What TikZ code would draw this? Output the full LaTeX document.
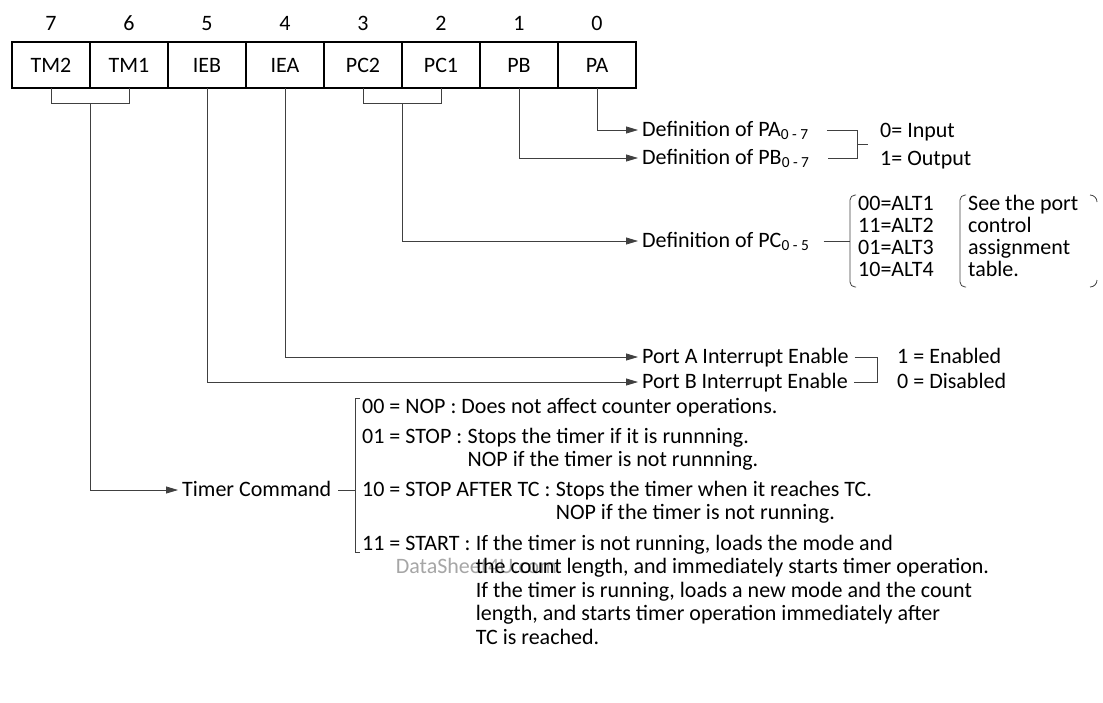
\documentclass[tikz,border=0pt]{standalone}
\usepackage{fontspec}
\setmainfont{Carlito}
\usepackage{tikz}
\usetikzlibrary{arrows.meta,positioning,calc}

\newcommand{\regfont}{\fontsize{22}{26}\selectfont}

\tikzset{
  bitcell/.style = {rectangle, draw, line width=1.1pt, outer sep=0pt, inner sep=0pt,
                    minimum width=78pt, minimum height=46pt, font=\regfont},
  bitnum/.style  = {inner sep=0pt, font=\regfont},
  lbl/.style     = {anchor=west, inner ysep=0pt, inner xsep=4pt, text height=14pt,
                    text depth=2pt, font=\regfont},
  txt/.style     = {anchor=base west, inner sep=0pt, font=\regfont},
  wire/.style    = {line width=0.8pt, draw=black!75},
  flow/.style    = {wire, -{Triangle[length=12pt,width=7pt]}},
}

\begin{document}
\begin{tikzpicture}[x=1pt, y=-1pt, node distance=0pt]
  \useasboundingbox (0,0) rectangle (1103,702);

  % register bits
  \node[bitcell] (ctm2) at (51,65) {TM2};
  \node[bitcell, right=of ctm2] (ctm1) {TM1};
  \node[bitcell, right=of ctm1] (cieb) {IEB};
  \node[bitcell, right=of cieb] (ciea) {IEA};
  \node[bitcell, right=of ciea] (cpc2) {PC2};
  \node[bitcell, right=of cpc2] (cpc1) {PC1};
  \node[bitcell, right=of cpc1] (cpb) {PB};
  \node[bitcell, right=of cpb] (cpa) {PA};

  \node[bitnum, above=11pt of ctm2] (n7) {7};
  \node[bitnum, above=11pt of ctm1] (n6) {6};
  \node[bitnum, above=11pt of cieb] (n5) {5};
  \node[bitnum, above=11pt of ciea] (n4) {4};
  \node[bitnum, above=11pt of cpc2] (n3) {3};
  \node[bitnum, above=11pt of cpc1] (n2) {2};
  \node[bitnum, above=11pt of cpb] (n1) {1};
  \node[bitnum, above=11pt of cpa] (n0) {0};

  % port definitions
  \node[lbl] (defpa) at (638,130) {Definition of PA\textsubscript{0 - 7}};
  \node[lbl] (defpb) at (638,158) {Definition of PB\textsubscript{0 - 7}};
  \node[lbl] (ioin) at (876,131) {0= Input};
  \node[lbl] (ioout) at (876,159) {1= Output};

  \node[lbl] (defpc) at (638,241) {Definition of PC\textsubscript{0 - 5}};
  \node[txt] (alt1) at (858,210) {00=ALT1};
  \node[txt] (alt2) at (858,232) {11=ALT2};
  \node[txt] (alt3) at (858,254) {01=ALT3};
  \node[txt] (alt4) at (858,276) {10=ALT4};
  \node[txt] (see1) at (968,210) {See the port};
  \node[txt] (see2) at (968,232) {control};
  \node[txt] (see3) at (968,254) {assignment};
  \node[txt] (see4) at (968,276) {table.};

  % interrupt enables
  \node[lbl] (inta) at (638,357) {Port A Interrupt Enable};
  \node[lbl] (intb) at (638,382) {Port B Interrupt Enable};
  \node[lbl] (en1) at (893,357) {1 = Enabled};
  \node[lbl] (en0) at (893,382) {0 = Disabled};

  % timer command
  \node[lbl] (tcmd) at (178,490) {Timer Command};
  \node[txt] (t00) at (362,413) {00 = NOP : Does not affect counter operations.};
  \node[txt] (t01) at (362,443) {01 = STOP :};
  \node[txt] (t01a) at ([xshift=5pt]t01.base east) {Stops the timer if it is runnning.};
  \node[txt] (t01b) at ($(t01a.base west)+(0,23.5)$) {NOP if the timer is not runnning.};
  \node[txt] (t10) at (362,496) {10 = STOP AFTER TC :};
  \node[txt] (t10a) at ([xshift=5pt]t10.base east) {Stops the timer when it reaches TC.};
  \node[txt] (t10b) at ($(t10a.base west)+(0,23.5)$) {NOP if the timer is not running.};
  \node[txt] (t11) at (362,550) {11 = START :};
  \node[txt] (t11a) at ([xshift=5pt]t11.base east) {If the timer is not running, loads the mode and};
  \node[txt, text=black!35] (wmark) at ($(t11a.base west)+(-80,23.5)$) {DataSheet4U.com};
  \node[txt] (t11b) at ($(t11a.base west)+(0,23.5)$) {the count length, and immediately starts timer operation.};
  \node[txt] (t11c) at ($(t11b.base west)+(0,23.5)$) {If the timer is running, loads a new mode and the count};
  \node[txt] (t11d) at ($(t11c.base west)+(0,23.5)$) {length, and starts timer operation immediately after};
  \node[txt] (t11e) at ($(t11d.base west)+(0,23.5)$) {TC is reached.};

  % connectors
  \draw[flow] (cpa.south) |- (defpa.west);
  \draw[flow] (cpb.south) |- (defpb.west);
  \draw[wire] (cpc2.south) -- ++(0,15) -| (cpc1.south);
  \coordinate (pcj) at ($(cpc2.south)!.5!(cpc1.south)+(0,15)$);
  \draw[flow] (pcj) |- (defpc.west);
  \draw[flow] (ciea.south) |- (inta.west);
  \draw[flow] (cieb.south) |- (intb.west);
  \draw[wire] (ctm2.south) -- ++(0,15) -| (ctm1.south);
  \coordinate (tmj) at ($(ctm2.south)!.5!(ctm1.south)+(0,15)$);
  \draw[flow] (tmj) |- (tcmd.west);

  % brackets
  \coordinate (iobar) at (857,0);
  \draw[wire] ([xshift=14pt]defpa.east) -- (defpa.east -| iobar) |- ([xshift=14pt]defpb.east);
  \draw[wire] ($(defpa.east -| iobar)!.5!(defpb.east -| iobar)$) -- ++(11,0);
  \draw[wire] ([xshift=10pt]defpc.east) -- (850,241);
  \draw[wire, rounded corners=5pt] (856,195) -- (850,195) -- (850,287) -- (856,287);
  \draw[wire, rounded corners=5pt] (966,195) -- (960,195) -- (960,287) -- (966,287);
  \draw[wire] (1090,195) to[out=0, in=90] (1097,202);
  \draw[wire] (1097,280) to[out=-90, in=0] (1090,287);
  \draw[wire] ([xshift=2pt]inta.east) -- (877,357) |- ([xshift=2pt]intb.east);
  \coordinate (tbar) at (355,398);
  \draw[wire] ([xshift=3pt]tcmd.east) -- (tcmd.east -| tbar);
  \draw[wire] (360,398) -- (tbar) -- (355,552) -- (360,552);
\end{tikzpicture}
\end{document}
